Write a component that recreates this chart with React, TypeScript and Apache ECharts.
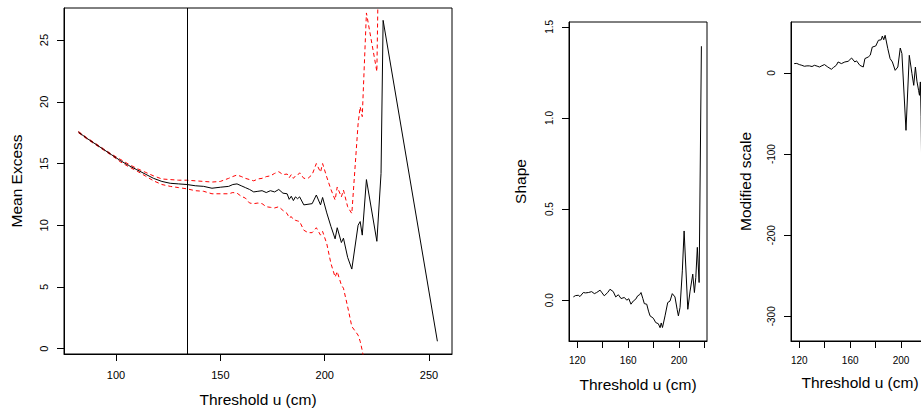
import React, { useEffect, useRef } from "react";
import * as echarts from "echarts";

// ---- Mean residual life (mean excess) panel ----
const thresholds = [82, 86, 90, 94, 98, 102, 106, 110, 114, 118, 122, 126, 130, 134, 138, 142, 146, 150, 154, 156, 158, 160, 162, 164, 166, 168, 170, 172, 174, 176, 178, 180, 182, 183, 184, 185, 186, 187, 188, 190, 192, 194, 196, 198, 199, 201, 203, 205, 206, 208, 209, 211, 213, 216, 217, 218, 220, 225, 227, 228, 254];
const meanExcess = [17.55, 17.05, 16.6, 16.15, 15.7, 15.25, 14.85, 14.5, 14.15, 13.8, 13.55, 13.4, 13.35, 13.3, 13.2, 13.15, 13.0, 13.08, 13.15, 13.3, 13.35, 13.2, 13.05, 12.9, 12.7, 12.75, 12.8, 12.65, 12.8, 12.7, 12.9, 12.6, 12.55, 12.1, 12.35, 12.0, 12.3, 12.15, 12.3, 11.65, 11.7, 11.75, 12.45, 11.65, 12.25, 11.0, 9.9, 8.9, 9.8, 8.6, 8.95, 7.4, 6.45, 10.0, 10.3, 9.2, 13.7, 8.7, 14.2, 26.6, 0.6];
const upperCI = [17.6, 17.1, 16.65, 16.2, 15.75, 15.35, 14.95, 14.6, 14.3, 14.0, 13.75, 13.7, 13.65, 13.65, 13.6, 13.55, 13.5, 13.55, 13.8, 13.95, 14.07, 13.95, 13.8, 13.7, 13.6, 13.75, 13.8, 13.94, 14.0, 14.2, 14.34, 14.1, 14.15, 13.85, 14.1, 13.8, 14.0, 14.05, 14.25, 13.8, 13.8, 14.1, 15.0, 14.3, 15.0, 13.9, 12.9, 12.05, 13.1, 12.3, 12.85, 11.5, 10.95, 18.2, 19.6, 18.8, 27.2, 22.45, 45, null, null];
const lowerCI = [17.5, 17.0, 16.55, 16.1, 15.65, 15.15, 14.75, 14.4, 14.0, 13.6, 13.3, 13.15, 13.05, 12.95, 12.8, 12.75, 12.55, 12.55, 12.55, 12.65, 12.6, 12.35, 12.2, 11.8, 11.75, 11.8, 11.75, 11.5, 11.45, 11.4, 11.5, 11.2, 10.95, 10.6, 10.7, 10.45, 10.4, 10.35, 10.3, 9.6, 9.4, 9.4, 9.8, 9.2, 9.5, 8.5, 6.9, 5.8, 6.25, 5.15, 4.9, 3.4, 1.8, 1.1, 0.6, -0.15, -2.0, null, null, null, null];
const chosenThreshold = 134.2;
const meXTicks = [100, 150, 200, 250];
const meYTicks = [0, 5, 10, 15, 20, 25];

// ---- Parameter stability panels ----
const shapeThresholds = [116.9, 118.5, 120.8, 122.1, 124.7, 126.5, 128.7, 131.3, 133.4, 135.2, 137.9, 139.5, 141.2, 143.9, 145.7, 148.3, 150.2, 152.3, 154.4, 157, 158.9, 160.5, 162.2, 164.1, 165.9, 167.5, 169, 170.1, 171.5, 172.7, 174.6, 176, 177.2, 179.8, 181.7, 183.7, 185.1, 186, 186.4, 187, 189, 191.1, 192.9, 194.7, 196.8, 198.5, 199.5, 200.8, 202.6, 204, 206.9, 208.7, 210.8, 212.1, 213.2, 214.4, 215.8, 217.6];
const shapeValues = [0.018, 0.025, 0.027, 0.02, 0.042, 0.04, 0.042, 0.047, 0.036, 0.042, 0.055, 0.04, 0.024, 0.042, 0.06, 0.047, 0.018, 0.03, 0.009, 0.015, 0.0, 0.008, -0.022, -0.004, 0.005, 0.024, 0.03, 0.042, 0.01, -0.019, -0.022, -0.06, -0.086, -0.099, -0.123, -0.129, -0.151, -0.125, -0.123, -0.15, -0.086, -0.013, -0.005, 0.036, 0.018, -0.05, -0.086, -0.04, 0.161, 0.38, -0.05, 0.05, 0.143, 0.042, 0.124, 0.29, 0.097, 1.394];
const scaleThresholds = [116, 118, 120, 122, 124, 126, 127.9, 130, 131.9, 134, 135.9, 137.8, 139.8, 142.4, 145.2, 147, 149.1, 150.5, 153.1, 155.8, 158.4, 161.1, 163.7, 165, 167.6, 170.3, 171.6, 174.2, 175.8, 177.4, 180.1, 182.2, 184.4, 185.3, 186.4, 187.5, 189.6, 191.4, 193.2, 195.4, 197.5, 199.4, 200.7, 203.9, 206.5, 208.6, 210, 211.3, 212.5, 213.8, 214.5, 215.2, 215.8, 217.6];
const modifiedScale = [11.6, 11.8, 10.4, 9.5, 8.3, 8.8, 8.8, 8.0, 9.5, 8.5, 7.4, 9.0, 10.4, 7.4, 4.6, 7.0, 9.5, 13.6, 11.6, 13.6, 14.4, 18.5, 13.6, 15.0, 9.5, 7.4, 17.8, 19.7, 22, 32, 33.3, 40.3, 41, 45.6, 41, 46.5, 30, 17.8, 13.6, 3.3, 7.4, 30.8, 23.9, -70.7, 21.8, -0.8, -15.2, 7.4, -10, -21.3, -27.5, -11, -54, -317];
const fitXTicks = [120, 140, 160, 180, 200, 220];
const fitXLabels = [120, 160, 200];
const shapeYTicks = [0, 0.5, 1.0, 1.5];
const scaleYTicks = [-300, -200, -100, 0];

const FONT = "'Liberation Sans', Arial, Helvetica, sans-serif";
const INK = "#000";

const zip = (xs: number[], ys: (number | null)[]) => xs.map((x, i) => [x, ys[i]]);

function valueAxis(opts: any) {
  const {
    gridIndex, min, max, ticks, labels, fontSize, margin, name, nameGap, rotate, formatter,
  } = opts;
  return {
    type: "value",
    gridIndex,
    min,
    max,
    name,
    nameLocation: "middle",
    nameGap,
    nameRotate: rotate ? 90 : 0,
    nameMoveOverlap: false,
    nameTextStyle: { fontFamily: FONT, fontSize: 15.5, color: INK },
    axisLine: { show: true, onZero: false, lineStyle: { color: INK, width: 1 } },
    axisTick: { show: true, length: 7, customValues: ticks, lineStyle: { color: INK, width: 1 } },
    axisLabel: {
      customValues: labels,
      fontFamily: FONT,
      fontSize,
      color: INK,
      margin,
      rotate: rotate ? 90 : 0,
      formatter: formatter || ((v: number) => String(v)),
    },
    splitLine: { show: false },
  };
}

export default function App() {
  const ref = useRef<HTMLDivElement>(null);

  useEffect(() => {
    if (!ref.current) return;
    const chart = echarts.init(ref.current, undefined, { renderer: "svg" });
    const gridBase = {
      show: true,
      borderColor: INK,
      borderWidth: 1,
      backgroundColor: "transparent",
      containLabel: false,
      outerBoundsMode: "none",
    };
    chart.setOption({
      animation: false,
      backgroundColor: "#fff",
      grid: [
        { ...gridBase, left: 64, top: 8, width: 388, height: 346 },
        { ...gridBase, left: 569, top: 22, width: 138, height: 319 },
        { ...gridBase, left: 791, top: 22, width: 138, height: 319 },
      ],
      xAxis: [
        valueAxis({ gridIndex: 0, min: 75.1, max: 261, ticks: meXTicks, labels: meXTicks, fontSize: 11, margin: 15, name: "Threshold u (cm)", nameGap: 37 }),
        valueAxis({ gridIndex: 1, min: 113.47, max: 222, ticks: fitXTicks, labels: fitXLabels, fontSize: 10, margin: 14, name: "Threshold u (cm)", nameGap: 35 }),
        valueAxis({ gridIndex: 2, min: 113.47, max: 222, ticks: fitXTicks, labels: fitXLabels, fontSize: 10, margin: 14, name: "Threshold u (cm)", nameGap: 33 }),
      ],
      yAxis: [
        valueAxis({ gridIndex: 0, min: -0.43, max: 27.6, ticks: meYTicks, labels: meYTicks, fontSize: 11, margin: 15, name: "Mean Excess", nameGap: 40, rotate: true }),
        valueAxis({ gridIndex: 1, min: -0.224, max: 1.527, ticks: shapeYTicks, labels: shapeYTicks, fontSize: 10, margin: 15, name: "Shape", nameGap: 41, rotate: true, formatter: (v: number) => v.toFixed(1) }),
        valueAxis({ gridIndex: 2, min: -330.5, max: 62.9, ticks: scaleYTicks, labels: scaleYTicks, fontSize: 10, margin: 15, name: "Modified scale", nameGap: 38, rotate: true }),
      ],
      series: [
        {
          type: "line", xAxisIndex: 0, yAxisIndex: 0, data: zip(thresholds, upperCI),
          showSymbol: false, symbol: "none", clip: true, silent: true,
          lineStyle: { color: "#ff0000", width: 1, type: [4, 3] },
        },
        {
          type: "line", xAxisIndex: 0, yAxisIndex: 0, data: zip(thresholds, lowerCI),
          showSymbol: false, symbol: "none", clip: true, silent: true,
          lineStyle: { color: "#ff0000", width: 1, type: [4, 3] },
        },
        {
          type: "line", xAxisIndex: 0, yAxisIndex: 0, data: zip(thresholds, meanExcess),
          showSymbol: false, symbol: "none", clip: true, silent: true,
          lineStyle: { color: INK, width: 1 },
          markLine: {
            silent: true, symbol: "none", label: { show: false },
            lineStyle: { color: INK, width: 1, type: "solid" },
            data: [{ xAxis: chosenThreshold }],
          },
        },
        {
          type: "line", xAxisIndex: 1, yAxisIndex: 1, data: zip(shapeThresholds, shapeValues),
          showSymbol: false, symbol: "none", clip: true, silent: true,
          lineStyle: { color: INK, width: 1 },
        },
        {
          type: "line", xAxisIndex: 2, yAxisIndex: 2, data: zip(scaleThresholds, modifiedScale),
          showSymbol: false, symbol: "none", clip: true, silent: true,
          lineStyle: { color: INK, width: 1 },
        },
      ],
    });
    return () => chart.dispose();
  }, []);

  return (
    <div
      ref={ref}
      style={{ position: "fixed", left: 0, top: 0, width: 921, height: 409, background: "#fff" }}
    />
  );
}
